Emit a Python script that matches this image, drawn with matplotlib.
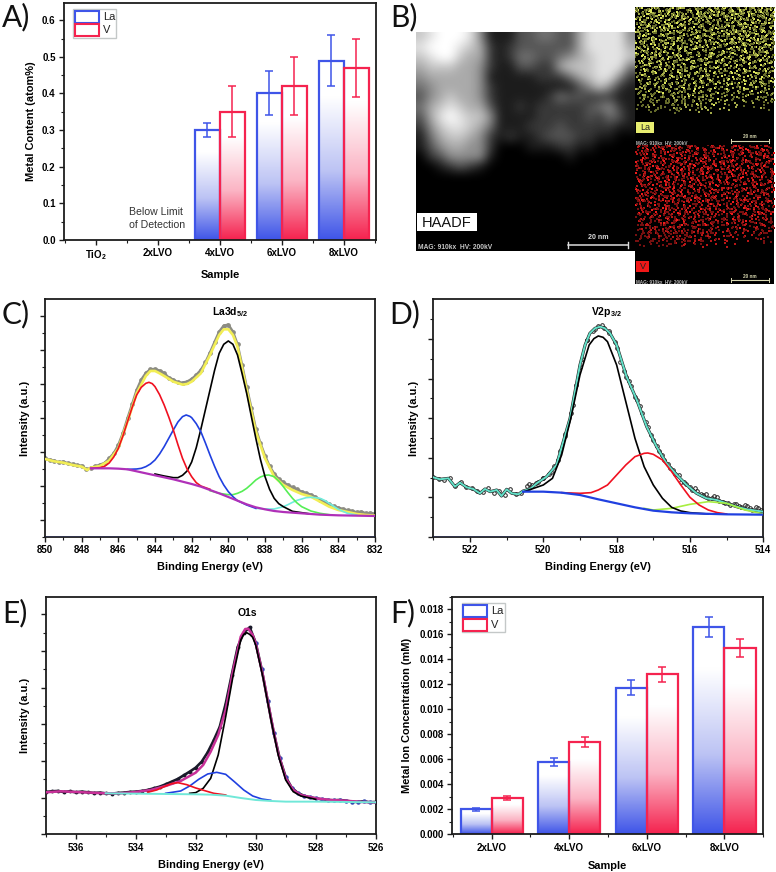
import numpy as np
import matplotlib
matplotlib.use("Agg")
import matplotlib.pyplot as plt
from matplotlib.colors import LinearSegmentedColormap
from matplotlib.patches import Rectangle
from matplotlib.ticker import MultipleLocator, FixedLocator, NullFormatter, FormatStrFormatter

plt.rcParams['font.family'] = ['Liberation Sans', 'DejaVu Sans']
plt.rcParams['mathtext.fontset'] = 'custom'
plt.rcParams['mathtext.rm'] = 'Liberation Sans'
plt.rcParams['mathtext.bf'] = 'Liberation Sans:bold'

W, H = 776, 872

# panel A
a_samples = ["TiO$_{\\mathbf{2}}$", "2xLVO", "4xLVO", "6xLVO", "8xLVO"]
a_la = [0, 0, 0.30, 0.40, 0.49]
a_la_err = [0, 0, 0.02, 0.06, 0.07]
a_v = [0, 0, 0.35, 0.42, 0.47]
a_v_err = [0, 0, 0.07, 0.08, 0.08]

# panel F
f_samples = ["2xLVO", "4xLVO", "6xLVO", "8xLVO"]
f_la = [0.0020, 0.0058, 0.0117, 0.0166]
f_la_err = [0.0001, 0.0003, 0.0006, 0.0008]
f_v = [0.0029, 0.0074, 0.0128, 0.0149]
f_v_err = [0.00015, 0.0004, 0.0006, 0.00075]

# panel C, La3d
c_raw = [236,231,229,224,226,221,219,215,214,203,207,212,217,222,236,251,276,312,356,398,441,472,492,503,504,499,492,478,472,464,463,466,474,486,501,524,553,585,616,634,637,616,578,516,450,388,325,281,244,212,190,174,164,156,149,143,136,131,127,120,112,104,98,92,88,84,80,78,74,76,71,72,70]
c_env_e = [850,849.5,849,848.5,848,847.7,847.5,847,846.5,846,845.5,845,844.5,844.25,844,843.75,843.5,843,842.5,842.25,842,841.5,841,840.5,840.25,840,839.75,839.5,839,838.5,838,837.5,837,836.5,836,835.5,835,834.5,834,833.5,833,832.5,832]
c_env = [234,227,223,216,211,201,208,213,229,266,346,431,483,498,498,491,483,466,457,459,466,491,546,606,623,623,606,571,441,316,236,181,156,141,129,121,106,91,81,75,69,66,64]
c_bg_e = [847.5,847,846.5,846,845.5,845,844.5,844,843.5,843,842.5,842,841.5,841,840.5,840,839.5,839,838.5,838,837.5,837,836.5,836,835,834,833,832]
c_bg = [206,206,206,205,203,197,191,185,179,173,166,159,151,141,131,120,109,98,89,83,78,75,73,71,67,65,64,63]
c_black_e = [844,843.5,843,842.75,842.5,842.25,842,841.75,841.5,841.25,841,840.75,840.5,840.25,840,839.75,839.5,839.25,839,838.75,838.5,838.25,838,837.75,837.5,837.25,837,836.5,836,835.5]
c_black = [189,183,178,178,185,198,225,268,323,382,441,500,551,578,588,578,546,490,431,363,296,233,181,143,116,100,91,77,73,69]
c_red_e = [847.5,847,846.75,846.5,846.25,846,845.75,845.5,845.25,845,844.75,844.5,844.33,844.15,844,843.75,843.5,843.25,843,842.75,842.5,842.25,842,841.75,841.5,841]
c_red = [206,208,212,222,240,266,303,346,388,426,449,461,464,460,451,427,396,360,321,277,236,204,181,163,153,143]
c_blue_e = [845.5,845,844.75,844.5,844.25,844,843.75,843.5,843.25,843,842.75,842.5,842.3,842.1,842,841.75,841.5,841.25,841,840.75,840.5,840.25,840,839.75,839.5,839,838.5]
c_blue = [203,204,206,211,219,231,249,271,296,321,345,361,366,362,358,340,316,282,246,212,181,156,136,121,109,96,86]
c_green_e = [841,840.5,840,839.75,839.5,839.25,839,838.75,838.5,838.25,838,837.8,837.5,837.25,837,836.75,836.5,836.25,836,835.5,835,834.5]
c_green = [139,131,127,127,131,137,146,158,171,180,185,186,181,168,151,133,116,102,91,78,71,67]
c_cyan_e = [838.5,838,837.5,837,836.75,836.5,836.25,836,835.75,835.5,835.25,835,834.75,834.5,834.25,834,833.5,833]
c_cyan = [86,84,84,91,97,104,110,114,118,119,118,116,110,101,92,83,71,66]

# panel D, V2p
d_raw = [180,175,171,178,154,165,150,147,139,135,146,133,139,125,145,128,133,152,157,166,176,190,212,258,308,372,456,535,590,617,632,628,612,585,525,480,452,412,372,330,292,258,232,207,190,165,160,142,137,126,116,122,108,103,96,98,89,92,82,86,78]
# second pass of the scan, between the first points
d_raw2_e = [520.4,520.2,520,519.8,519.6,519.4,519.2,519,518.8,518.6,518.4,518.2,518,517.8,517.65,517.5,517.35,517.2,517.05,516.9,516.75,516.6,516.45,516.3,516.15,516,515.85,515.7,515.55,515.4,515.25,515.1,514.95,514.8,514.65,514.5,514.35,514.2,514.05]
d_raw2 = [158,163,178,196,232,302,395,510,592,625,636,618,568,498,468,420,392,345,305,272,246,218,200,186,166,150,146,128,128,118,119,106,102,100,92,95,88,90,80]
d_env_e = [523,522.82,522.59,522.41,522.27,522.09,521.91,521.73,521.59,521.45,521.27,521.14,521,520.86,520.68,520.55,520.36,520.18,519.91,519.64,519.27,519,518.86,518.73,518.59,518.45,518.32,518.18,518,517.73,517.45,517.18,516.91,516.64,516.36,516.09,515.82,515.55,515.27,515,514.73,514.45,514]
d_env = [179,173,176,151,163,149,144,131,144,136,141,123,143,131,128,138,144,161,181,216,356,516,576,611,626,631,626,611,576,481,411,331,271,221,186,156,131,116,111,101,91,83,76]
d_bg_e = [520.55,520,519.5,519,518.5,518,517.5,517,516.5,516,515,514]
d_bg = [136,136,133,126,113,101,89,79,74,71,68,67]
d_black_e = [520.5,520,519.75,519.5,519.25,519,518.75,518.62,518.5,518.37,518.25,518,517.75,517.5,517.25,517,516.75,516.5,516.25,516,515.5]
d_black = [137,156,176,246,356,486,576,595,603,599,586,516,406,296,211,156,116,89,78,73,69]
d_red_e = [519.5,519,518.7,518.5,518.25,518,517.75,517.5,517.25,517.15,517,516.75,516.5,516.25,516,515.75,515.5,515.25,515]
d_red = [133,131,133,141,156,186,216,241,251,252,248,231,196,156,119,96,81,73,69]
d_lime_e = [517.25,517,516.5,516,515.5,515,514.5,514]
d_lime = [86,81,86,98,106,101,81,69]

# panel E, O1s
e_raw = [127,129,130,127,129,126,128,126,124,125,123,122,124,125,127,128,130,133,138,143,150,158,166,177,188,200,218,246,282,322,392,478,562,605,621,575,495,400,305,228,172,140,124,116,111,108,105,103,102,103,101,98,97,99,96,97]
e_env_e = [537,536.5,536,535.5,535,534.5,534,533.5,533,532.5,532,531.75,531.5,531.25,531,530.75,530.5,530.35,530.25,530.1,530,529.75,529.5,529.25,529,528.75,528.5,528,527.5,527,526.5,526]
e_env = [126,129,127,125,123,123,127,133,145,160,185,208,248,298,373,493,593,616,617,598,573,473,353,243,168,133,118,108,103,101,97,96]
e_black_e = [532.2,532,531.75,531.5,531.25,531,530.75,530.5,530.4,530.3,530.2,530.1,530,529.75,529.5,529.25,529,528.75,528.5,528]
e_black = [123,125,138,168,238,353,478,583,600,605,600,591,568,468,348,238,163,128,115,105]
e_blue_e = [533,532.5,532.2,531.9,531.6,531.3,531,530.7,530.4,530.1,529.8,529.5]
e_blue = [123,130,145,165,181,186,180,157,133,115,106,102]
e_red_e = [533.6,533.3,533,532.8,532.6,532.3,532,531.7,531.4,531]
e_red = [126,133,145,152,155,149,139,131,123,118]
e_cyan_e = [535,534,533,532,531.5,531,530.5,530,529.5,529,528,527,526]
e_cyan = [123,122,121,120,119,116,109,103,100,98,98,97,96]

haadf_rows = [
    "7899985111334433688885",
    "8999876212333333688886",
    "7899766212443345678887",
    "6777665211332267778884",
    "5666665111112224678852",
    "4566665211111111357521",
    "3567665211111243322211",
    "4678766311212222234521",
    "3689877511112222232431",
    "2578876411122232222211",
    "1467765212112333221100",
    "1356655200011122110000",
    "0235555100000001000000",
    "0012321000000000000000",
    "0000000000000000000000",
    "0000000000000000000000",
    "0000000000000000000000",
    "0000000000000000000000",
    "0000000000000000000000",
    "0000000000000000000000",
    "0000000000000000000000",
    "0000000000000000000000",
]

la_rows = [
    "  #   .#      #  #.      #    .  ##       #  .  #    #",
    "#    #   #.  .       #       #      .#  #      #  . ",
    " .  ##      #   #  .   #.      .      #    ##     # ",
    "   #    . #    ##       #   #     #.       #   .#   ",
    "#     #      .    #  #     .    #       #.   #     #",
    "  #.    #  #    .       #      .     #      #    .  ",
    "     #      ##   #  .       #      .   ## .     #   ",
    " #  .    #      #     # .         #       #   #    .",
    "    #  #   .#       #     .  #       .#      .  #   ",
    "#.     #     #  .#     #       .      #  #      #  .",
    "   #      #       #  .    #  #     #      .#      # ",
    " #   .#     .#  #      #       .       #     #  .   ",
    "      #  #      .   #     . #     #  .     #     #  ",
    "#  #       .#     #    #       #      #  .    ##    ",
    "    .  #      #      .     #      .      #       . #",
    " #      #  #    .#     #      #     #  .    #   #   ",
    "   #.      #       #      .      #        #  .      ",
    "#     #  .    #      #  .    #      .#       #    # ",
    "  #      #      .#      #      .        #     .  #  ",
    "     #.     #       #      #     #  .      #        ",
    " .#      #     .      #  .     #      #  .     #  . ",
    "     #        #   #       #       .        #     #  ",
    "#      . #       .    #     .  #      #      .      ",
    "   #       #  #      .    #       .      #       #  ",
    "      .#        #      #      .     #     .  #     .",
    "  #       #  .      #      #      .    #            ",
    "     #        .  #       .     #     #      .   #   ",
    " #     .   #       .        #      .     #          ",
    "    .      #    #     #  .      .      #     .  #   ",
    "       #     .      .      #       #        .       ",
    "  .       .       #     .     #      .   #       .  ",
    "     #       .        #     .      .        #       ",
    " .        #     .       .      #       .          . ",
    "      .       .     #      .      .       .         ",
    "   .        .     .     .      #     .        .     ",
    "        .      .      .     .     .      .          ",
    "              .        #     .    .                 ",
    "     .             .      .           .             ",
    "                 .       .      .                   ",
    "                        .                           ",
]

v_rows = [
    " #     .     #      .#       #  .     #.      #   . ",
    "    #     #    .       #  .      #        #     #   ",
    "#      .    #      #      .   #     .#     .        ",
    "   .#      .     #     #       .       #      #  .  ",
    "       #      #     .     #       #  .      .     # ",
    "  #       .     #      .    #        #    #    .    ",
    "#     .#      .    #      .     #  .      #       # ",
    "    #     #      .    #       #       .       #  .  ",
    " .      #     #     .    #  .      #       .#       ",
    "     #      .    #       .     #     #  .      #    ",
    "#       .       #   #      #      .       #      . ",
    "   #  .     #     .     #      .     #       .  #   ",
    "        #      .     #     . #     .    #       #   ",
    " #.        #      #     .       #     #    .       #",
    "     #  .     .       #     #      .     #    #  .  ",
    "  .      #       #  .     .    #      #      .      ",
    "#     #       .       #      #     .     #        # ",
    "    .     #      #      .      #       .     #  .   ",
    "  #    .      #     .     #       #  .      .     # ",
    "      #    .      #    .     .#       #        #    ",
    " .#       #   .      #     #     .      .#        . ",
    "     .        #   .     #      .     #      #   .   ",
    "#      #   .      #      .      #       .       #   ",
    "   .      #     .     .     #      .     #   .      ",
    "      #      .     #      .     #     .      #    . ",
    " #  .      .    #     .      .      #     .     #   ",
    "      .  #        .     #     .        .    #       ",
    "   .        #  .      .     #     .  #      .     . ",
    " .     #       .  #     .      .       .  #         ",
    "    .      .       .      #  .     #      .     .   ",
    "       .     #  .     .        .      .       .     ",
    "  .       .       .     #    .     .     .          ",
    "     .      .  .      .    .     .    .      .      ",
    "           .       .     .    .     .       .       ",
    "     .        .      .      .        .              ",
    "          .       .     .     .   .                 ",
    "               .      .           .                 ",
    "                  .        .                        ",
]

LA_COL = '#3f55e8'
LA_MID = '#bcc3f4'
V_COL = '#f5234f'
V_MID = '#fbb4c4'


def px_axes(l, t, r, b, **kw):
    return fig.add_axes([l / W, 1 - b / H, (r - l) / W, (b - t) / H], **kw)


def fade(col, mid):
    # white over the upper part of a bar, saturating towards its foot
    return LinearSegmentedColormap.from_list('f', [(0, 'white'), (0.2, 'white'), (0.62, mid), (1, col)])


def style_axes(ax):
    for s in ax.spines.values():
        s.set_linewidth(1.3)
        s.set_color('#1c1c1c')
    ax.tick_params(which='major', direction='out', length=3.5, width=1, labelsize=7, pad=2.5, color='#1c1c1c')
    ax.tick_params(which='minor', direction='out', length=2, width=0.8, color='#1c1c1c')
    for t in ax.get_xticklabels() + ax.get_yticklabels():
        t.set_fontweight('bold')


def bars(ax, vals, errs, offset, col, mid, width=0.4):
    cm = fade(col, mid)
    grad = np.linspace(0, 1, 128).reshape(-1, 1)
    for i, (v, e) in enumerate(zip(vals, errs)):
        if v == 0:
            continue
        l = i + offset - width / 2
        ax.imshow(grad, extent=(l, l + width, 0, v), aspect='auto', cmap=cm, vmin=0, vmax=1,
                  origin='upper', zorder=1)
        ax.add_patch(Rectangle((l, 0), width, v, fill=False, edgecolor=col, linewidth=1.6, zorder=2))
        ax.errorbar(i + offset, v, yerr=e, color=col, capsize=2.8, elinewidth=1.1, capthick=1.1, zorder=3)


def spectrum(ax, xlim, major_x=2):
    ax.set_xlim(*xlim)
    ax.set_ylim(0, 713)
    ax.xaxis.set_major_locator(MultipleLocator(major_x))
    ax.xaxis.set_minor_locator(MultipleLocator(1))
    ax.yaxis.set_major_formatter(NullFormatter())


fig = plt.figure(figsize=(W / 100, H / 100), dpi=100)

# A
ax = px_axes(64, 3, 376, 240)
bars(ax, a_la, a_la_err, -0.2, LA_COL, LA_MID)
bars(ax, a_v, a_v_err, 0.2, V_COL, V_MID)
ax.set_xlim(-0.51, 4.52)
ax.set_ylim(0, 0.647)
ax.set_xticks(range(5))
ax.set_xticklabels(a_samples)
ax.xaxis.set_minor_locator(FixedLocator([-0.5, 0.5, 1.5, 2.5, 3.5, 4.5]))
ax.yaxis.set_major_locator(MultipleLocator(0.1))
ax.yaxis.set_minor_locator(MultipleLocator(0.05))
style_axes(ax)
ax.set_xlabel("Sample", fontsize=7.9, fontweight='bold', labelpad=6)
ax.set_ylabel("Metal Content (atom%)", fontsize=7.9, fontweight='bold', labelpad=4)

# F
ax = px_axes(452, 596.7, 763.3, 834.3)
bars(ax, f_la, f_la_err, -0.2, LA_COL, LA_MID)
bars(ax, f_v, f_v_err, 0.2, V_COL, V_MID)
ax.set_xlim(-0.51, 3.5)
ax.set_ylim(0, 0.019)
ax.set_xticks(range(4))
ax.set_xticklabels(f_samples)
ax.xaxis.set_minor_locator(FixedLocator([-0.5, 0.5, 1.5, 2.5, 3.5]))
ax.yaxis.set_major_locator(MultipleLocator(0.002))
ax.yaxis.set_minor_locator(MultipleLocator(0.001))
ax.yaxis.set_major_formatter(FormatStrFormatter('%.3f'))
style_axes(ax)
ax.set_xlabel("Sample", fontsize=7.9, fontweight='bold', labelpad=6)
ax.set_ylabel("Metal Ion Concentration (mM)", fontsize=7.9, fontweight='bold', labelpad=5)

# C
ax = px_axes(45, 299.3, 375, 537)
ax.plot(np.linspace(850, 832, len(c_raw)), c_raw, '-o', color='#8c8c82', lw=1.8, ms=2.4, zorder=2)
ax.plot(c_env_e, c_env, color='#f2ee55', lw=1.9, zorder=3)
ax.plot(c_cyan_e, c_cyan, color='#70eedd', lw=1.2, zorder=4)
ax.plot(c_green_e, c_green, color='#55ee55', lw=1.2, zorder=4)
ax.plot(c_black_e, c_black, color='black', lw=1.2, zorder=5)
ax.plot(c_blue_e, c_blue, color='#2040e0', lw=1.2, zorder=5)
ax.plot(c_red_e, c_red, color='#f01020', lw=1.2, zorder=5)
ax.plot(c_bg_e, c_bg, color='#b030b8', lw=1.6, zorder=6)
ax.axhline(0, color='#3344bb', lw=1, zorder=7)
spectrum(ax, (850, 832))
ax.yaxis.set_major_locator(FixedLocator([51 + 102 * k for k in range(7)]))
ax.yaxis.set_minor_locator(FixedLocator([102 * k for k in range(7)]))
style_axes(ax)
ax.set_xlabel("Binding Energy (eV)", fontsize=7.9, fontweight='bold', labelpad=5)
ax.set_ylabel("Intensity (a.u.)", fontsize=7.9, fontweight='bold', labelpad=5)
ax.text(0.56, 0.945, "La3d$_{\\mathbf{5/2}}$", transform=ax.transAxes, fontsize=7.5, fontweight='bold', ha='center', va='center')

# D
ax = px_axes(433.3, 299.3, 763.3, 537)
ax.plot(np.linspace(523, 514, len(d_raw)), d_raw, 'o', mfc='none', mec='#222222', mew=0.7, ms=2.6, zorder=2)
ax.plot(d_raw2_e, d_raw2, 'o', mfc='none', mec='#222222', mew=0.7, ms=2.6, zorder=2)
ax.plot(d_env_e, d_env, color='#222222', lw=2.2, zorder=2)
ax.plot(d_env_e, d_env, color='#62e0c8', lw=1.4, zorder=3)
ax.plot(d_lime_e, d_lime, color='#a8ee40', lw=1.2, zorder=4)
ax.plot(d_black_e, d_black, color='black', lw=1.2, zorder=5)
ax.plot(d_red_e, d_red, color='#f01020', lw=1.2, zorder=5)
ax.plot(d_bg_e, d_bg, color='#2040e0', lw=1.6, zorder=6)
ax.axhline(0, color='#3344bb', lw=1, zorder=7)
spectrum(ax, (523, 514))
ax.yaxis.set_major_locator(FixedLocator([118.7 * k for k in range(6)]))
ax.yaxis.set_minor_locator(FixedLocator([59.35 + 118.7 * k for k in range(6)]))
style_axes(ax)
ax.set_xlabel("Binding Energy (eV)", fontsize=7.9, fontweight='bold', labelpad=5)
ax.set_ylabel("Intensity (a.u.)", fontsize=7.9, fontweight='bold', labelpad=4)
ax.text(0.525, 0.945, "V2p$_{\\mathbf{3/2}}$", transform=ax.transAxes, fontsize=7.5, fontweight='bold', ha='center', va='center')

# E
ax = px_axes(45.7, 596.7, 375.7, 834.3)
e_raw_e = np.linspace(537, 526, len(e_raw))
e_raw_y = np.array(e_raw)
ax.plot(e_raw_e, e_raw_y, color='#1a1a2a', lw=1.9, zorder=2)
ax.plot(e_raw_e[e_raw_e > 530], e_raw_y[e_raw_e > 530], 'o', color='#1a1a2a', ms=1.8, zorder=2)
ax.plot(e_raw_e[e_raw_e <= 530], e_raw_y[e_raw_e <= 530], 'o', color='#3448b0', ms=2.2, zorder=2)
ax.plot(e_env_e, e_env, color='#c83098', lw=1.8, zorder=3)
ax.plot(e_black_e, e_black, color='black', lw=1.2, zorder=4)
ax.plot(e_blue_e, e_blue, color='#2040e0', lw=1.2, zorder=5)
ax.plot(e_red_e, e_red, color='#f01020', lw=1.2, zorder=5)
ax.plot(e_cyan_e, e_cyan, color='#70e8d8', lw=1.4, zorder=6)
spectrum(ax, (537, 526))
ax.yaxis.set_major_locator(FixedLocator([110 * k for k in range(7)]))
ax.yaxis.set_minor_locator(FixedLocator([55 + 110 * k for k in range(6)]))
style_axes(ax)
ax.set_xlabel("Binding Energy (eV)", fontsize=7.9, fontweight='bold', labelpad=5)
ax.set_ylabel("Intensity (a.u.)", fontsize=7.9, fontweight='bold', labelpad=5)
ax.text(0.61, 0.93, "O1s", transform=ax.transAxes, fontsize=7.5, fontweight='bold', ha='center', va='center')

# B, micrograph and element maps
ax = px_axes(416, 32, 635, 251)
haadf = np.array([[int(c) for c in r] for r in haadf_rows], dtype=float)
ax.imshow(haadf, cmap='gray', vmin=0, vmax=9, interpolation='bicubic', aspect='auto')
ax.axis('off')


def element_map(rows, box, bright, mid, dim):
    cols, nrows = 53, 52
    m = px_axes(*box)
    m.set_facecolor('black')
    m.set_xlim(0, cols)
    m.set_ylim(nrows, 0)
    m.set_xticks([])
    m.set_yticks([])
    for s in m.spines.values():
        s.set_visible(False)
    # the typed rows are laid over themselves, mirrored and rotated, to fill the map
    passes = [(0, False, 0.5, 0.5, bright, mid), (0, True, 1.0, 1.0, bright, mid),
              (17, False, 0.75, 0.25, mid, dim), (31, True, 0.25, 0.75, mid, dim),
              (9, False, 0.1, 0.9, dim, dim), (41, True, 0.9, 0.1, dim, dim)]
    for shift, flip, dx, dy, c_hash, c_dot in passes:
        for ch, col in (('.', c_dot), ('#', c_hash)):
            xs, ys = [], []
            for i, r in enumerate(rows):
                r = r.ljust(cols)
                r = r[shift:] + r[:shift]
                if flip:
                    r = r[::-1]
                for j, c in enumerate(r):
                    if c == ch:
                        xs.append(j + dx)
                        ys.append(i + dy)
            m.scatter(xs, ys, s=1.9, marker='s', color=col, linewidths=0)


element_map(la_rows, (635, 7, 774, 145), '#dbe45c', '#a4ab48', '#646a2a')
element_map(v_rows, (635, 145, 774, 284), '#ee1c1c', '#b81616', '#761010')

# overlay in figure pixels for legends, labels and the image captions
ov = fig.add_axes([0, 0, 1, 1], zorder=20)
ov.set_xlim(0, W)
ov.set_ylim(H, 0)
ov.axis('off')
ov.patch.set_alpha(0)

for lab, x, y in [("A)", 2, 26), ("B)", 390, 26), ("C)", 2, 323), ("D)", 389, 323), ("E)", 2, 622), ("F)", 390, 622)]:
    ov.text(x, y, lab, fontsize=21.5, family='Lato', color='#111111', va='baseline')

ov.text(129, 212, "Below Limit", fontsize=7.6, color='#333333', va='center')
ov.text(129, 225, "of Detection", fontsize=7.6, color='#333333', va='center')


def legend(box, handle_x, rows):
    ov.add_patch(Rectangle((box[0], box[1]), box[2] - box[0], box[3] - box[1], fc='white', ec='#c4c8c8', lw=1))
    grad = np.linspace(0.15, 0.62, 32).reshape(-1, 1)
    for (t, b, col, mid, lab) in rows:
        ov.imshow(grad, extent=(handle_x[0], handle_x[1], b, t), cmap=fade(col, mid), vmin=0, vmax=1, aspect='auto', origin='lower')
        ov.add_patch(Rectangle((handle_x[0], t), handle_x[1] - handle_x[0], b - t, fill=False, ec=col, lw=1.5))
        ov.text(handle_x[1] + 4, (t + b) / 2, lab, fontsize=8, va='center', color='#222222')


legend((73, 9, 116, 38), (75, 99), [(11, 23, LA_COL, LA_MID, "La"), (24.5, 36, V_COL, V_MID, "V")])
legend((462, 603, 505, 632), (463, 487), [(605, 617, LA_COL, LA_MID, "La"), (619, 631, V_COL, V_MID, "V")])

ov.add_patch(Rectangle((417, 213), 60, 18, fc='white', ec='none'))
ov.text(447, 222.5, "HAADF", fontsize=10.5, ha='center', va='center', color='#111111')
ov.text(417.5, 247, "MAG: 910kx  HV: 200kV", fontsize=4.8, fontweight='bold', color='#c8c8c8', va='center')
ov.plot([568, 628], [245, 245], color='#dddddd', lw=1.1)
ov.plot([568, 568], [242, 248], color='#dddddd', lw=1)
ov.plot([628, 628], [242, 248], color='#dddddd', lw=1)
ov.text(598, 237.5, "20 nm", fontsize=5, fontweight='bold', color='#dddddd', ha='center', va='center')

for box_t, box_r, fc, lab, bar_y in [(122, 654, '#e8ee70', "La", 141), (261, 649, '#f01818', "V", 280)]:
    ov.add_patch(Rectangle((636, box_t), box_r - 636, 11, fc=fc, ec='none'))
    ov.text((636 + box_r) / 2, box_t + 5.5, lab, fontsize=6.5, ha='center', va='center', color='#222222')
    ov.text(636.5, bar_y + 2.2, "MAG: 910kx  HV: 200kV", fontsize=3.3, fontweight='bold', color='#bbbbbb', va='center')
    ov.plot([731, 769], [bar_y, bar_y], color='#d8d8b0', lw=0.8)
    ov.plot([731, 731], [bar_y - 2, bar_y + 2], color='#d8d8b0', lw=0.7)
    ov.plot([769, 769], [bar_y - 2, bar_y + 2], color='#d8d8b0', lw=0.7)
    ov.text(750, bar_y - 4, "20 nm", fontsize=3.3, fontweight='bold', color='#d8d8b0', ha='center', va='center')

ov.set_xlim(0, W)
ov.set_ylim(H, 0)

fig.savefig("out.png", dpi=100)
